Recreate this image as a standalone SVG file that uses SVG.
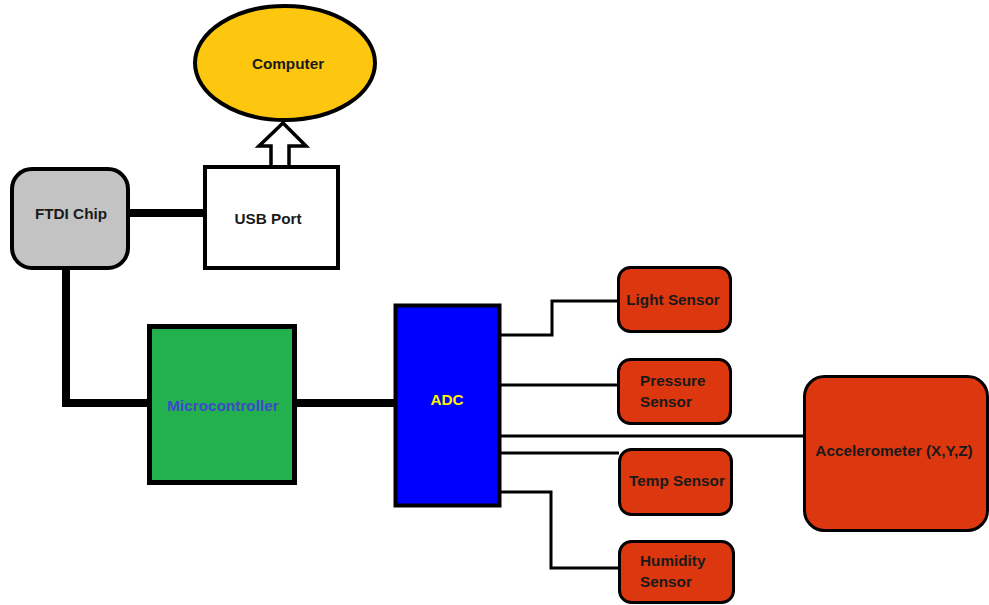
<svg xmlns="http://www.w3.org/2000/svg" width="989" height="605" viewBox="0 0 989 605">
<style>
.t{font-family:"Liberation Sans",Arial,sans-serif;font-weight:bold;font-size:15.3px;fill:#1a1a1a}
.c{text-anchor:middle;dominant-baseline:central}
.thick{stroke:#000;stroke-width:8;fill:none}
.thin{stroke:#000;stroke-width:3;fill:none}
.sensor{fill:#dc370e;stroke:#000;stroke-width:3}
</style>
<rect width="989" height="605" fill="#fff"/>
<g id="connectors">
<polyline class="thick" points="130,213 205,213"/>
<polyline class="thick" points="66,268 66,403 149,403"/>
<polyline class="thick" points="296,403 395,403"/>
<polyline class="thin" points="501,335 552,335 552,301 618,301"/>
<polyline class="thin" points="501,385 618,385"/>
<polyline class="thin" points="501,436 804,436"/>
<polyline class="thin" points="501,453 619,453"/>
<polyline class="thin" points="501,492 551,492 551,568 619,568"/>
<path d="M271,167 L271,146 L259,146 L283,123 L306,146 L289,146 L289,167" fill="#fff" stroke="#000" stroke-width="3.5" stroke-linejoin="miter"/>
</g>
<g id="computer">
<ellipse cx="285" cy="63" rx="90" ry="57" fill="#fec70f" stroke="#000" stroke-width="4"/>
<text class="t c" x="288" y="63">Computer</text>
</g>
<g id="usb">
<rect x="205" y="167" width="133" height="101" fill="#fff" stroke="#000" stroke-width="4"/>
<text class="t c" x="268" y="218">USB Port</text>
</g>
<g id="ftdi">
<rect x="12" y="169" width="116" height="99" rx="20" fill="#c3c3c3" stroke="#000" stroke-width="4"/>
<text class="t c" x="71" y="213">FTDI Chip</text>
</g>
<g id="microcontroller">
<rect x="149.5" y="326.5" width="145" height="156" fill="#22b14c" stroke="#000" stroke-width="5"/>
<text class="t c" x="223" y="405" style="fill:#3f48cc">Microcontroller</text>
</g>
<g id="adc">
<rect x="395.5" y="305.5" width="104" height="200" fill="#0000ff" stroke="#000" stroke-width="4"/>
<text class="t c" x="447" y="399" style="fill:#fff200">ADC</text>
</g>
<g id="light">
<rect x="618.5" y="267.5" width="112" height="64" rx="12" class="sensor"/>
<text class="t c" x="673" y="299">Light Sensor</text>
</g>
<g id="pressure">
<rect x="618.5" y="359.5" width="112" height="64" rx="12" class="sensor"/>
<text class="t" x="640" y="386">Pressure</text>
<text class="t" x="640" y="407">Sensor</text>
</g>
<g id="temp">
<rect x="619.5" y="449.5" width="112" height="65" rx="12" class="sensor"/>
<text class="t c" x="677" y="480">Temp Sensor</text>
</g>
<g id="humidity">
<rect x="619.5" y="541.5" width="114" height="61" rx="12" class="sensor"/>
<text class="t" x="640" y="566">Humidity</text>
<text class="t" x="640" y="587">Sensor</text>
</g>
<g id="accelerometer">
<rect x="804.5" y="376.5" width="183" height="154" rx="20" class="sensor"/>
<text class="t c" x="894" y="450">Accelerometer (X,Y,Z)</text>
</g>
</svg>
